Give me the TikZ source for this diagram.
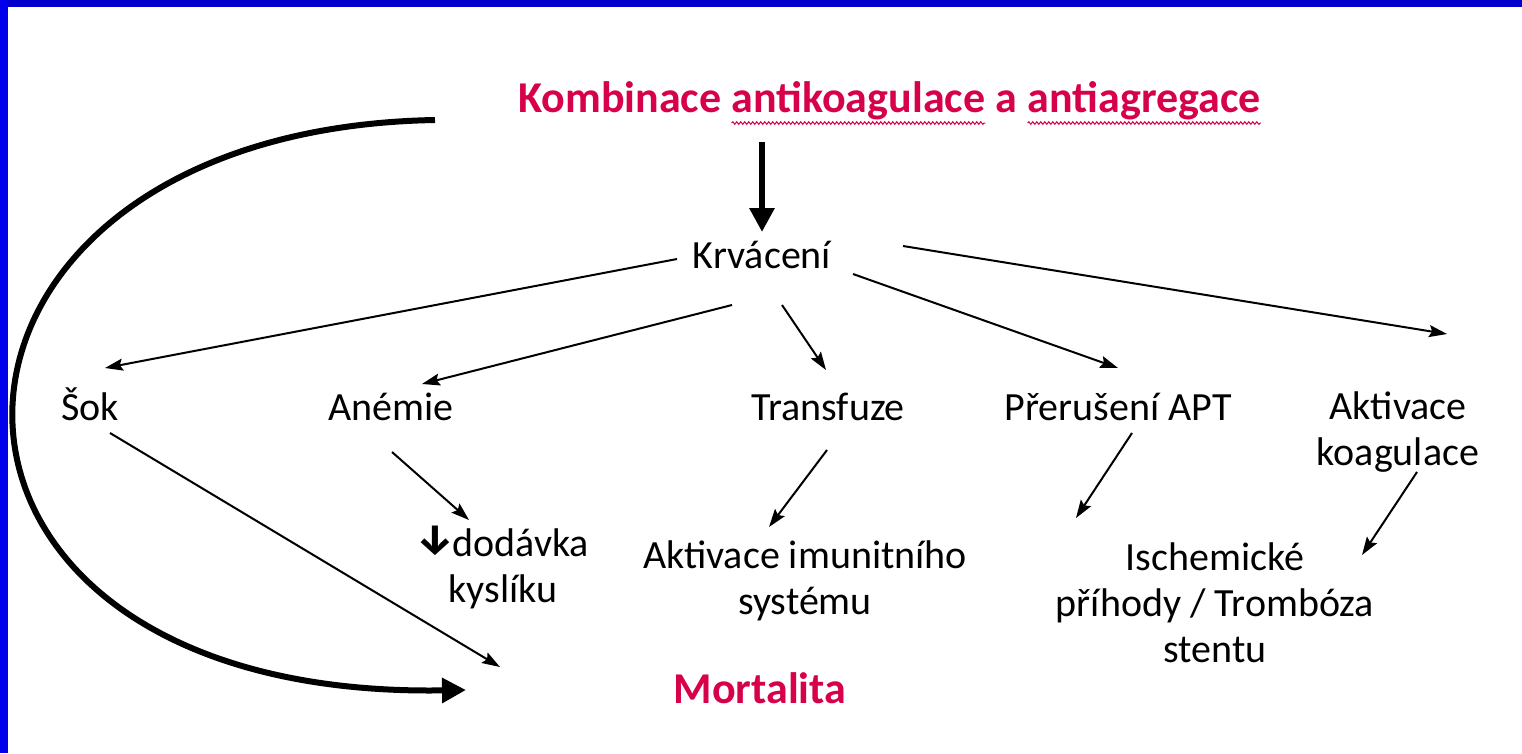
\documentclass[tikz,border=0pt]{standalone}
\usepackage{fontspec}
\setmainfont{Carlito}
\newfontfamily\arrowfont{Fira Sans}
\usetikzlibrary{arrows.meta,decorations.pathmorphing}
\definecolor{redt}{RGB}{215,0,75}
\definecolor{bluetop}{RGB}{0,0,204}
\definecolor{blueleft}{RGB}{0,0,235}
\begin{document}
\begin{tikzpicture}[x=1pt,y=-1pt,
  lbl/.style={inner sep=0pt,font=\fontsize{40}{46}\selectfont,align=center,anchor=base},
  ttl/.style={inner sep=0pt,font=\fontsize{44}{50}\selectfont\bfseries,text=redt,anchor=base west},
  thinarrow/.style={line width=2pt,-{Stealth[length=18pt,width=12pt,inset=3pt]}},
  thickarrow/.style={line width=6pt,-{Triangle[length=24pt,width=24pt]}},
  squig/.style={redt,line width=1pt,decorate,decoration={snake,amplitude=1.3pt,segment length=4pt}}]
\useasboundingbox (0,0) rectangle (1522,753);
\fill[white] (0,0) rectangle (1522,753);
\fill[bluetop] (0,0) rectangle (1522,7);
\fill[blueleft] (0,0) rectangle (8,753);

% title
\node[ttl] (t1) at (518,112) {Kombinace};
\node[ttl] (t2) at ([xshift=10pt]t1.base east) {antikoagulace};
\node[ttl] (t3) at ([xshift=10pt]t2.base east) {a};
\node[ttl] (t4) at ([xshift=10pt]t3.base east) {antiagregace};
\draw[squig] ([yshift=-11pt]t2.base west) -- ([yshift=-11pt]t2.base east);
\draw[squig] ([yshift=-11pt]t4.base west) -- ([yshift=-11pt]t4.base east);

% nodes (base = baseline of the last line)
\node[lbl] (krv) at (762,268) {Krvácení};
\node[lbl] (sok) at (90,420) {Šok};
\node[lbl] (ane) at (391,420) {Anémie};
\node[lbl] (tra) at (828,420) {Transfuze};
\node[lbl] (pre) at (1118,420) {Přerušení APT};
\node[lbl] (akt) at (1398,465) {Aktivace\\koagulace};
\node[lbl] (dod) at (503,602) {\raisebox{3pt}{\arrowfont\bfseries\fontsize{42}{42}\selectfont ↓}\kern-2pt dodávka\\kyslíku};
\node[lbl] (imu) at (805,614) {Aktivace imunitního\\systému};
\node[lbl] (isc) at (1215,662) {Ischemické\\příhody / Trombóza\\stentu};
\node[lbl,font=\fontsize{44}{50}\selectfont\bfseries,text=redt] (mor) at (760,703) {Mortalita};

% connectors
\draw[thickarrow] ([shift={(244,30)}]t1.base west) -- ([shift={(0,-36)}]krv.base);
\draw[thinarrow] ([shift={(-85,-9)}]krv.base) -- ([shift={(15,-52)}]sok.base);
\draw[thinarrow] ([shift={(-30,37)}]krv.base) -- ([shift={(31,-36)}]ane.base);
\draw[thinarrow] ([shift={(20,37)}]krv.base) -- ([shift={(-2,-50)}]tra.base);
\draw[thinarrow] ([shift={(91,6)}]krv.base) -- ([shift={(0,-52)}]pre.base);
\draw[thinarrow] ([shift={(141,-22)}]krv.base) -- ([shift={(49,-131)}]akt.base);
\draw[thinarrow] ([shift={(20,13)}]sok.base) -- ([shift={(-260,-36)}]mor.base);
\draw[thinarrow] ([shift={(1,32)}]ane.base) -- ([shift={(-34,-82)}]dod.base);
\draw[thinarrow] ([shift={(-1,30)}]tra.base) -- ([shift={(-36,-87)}]imu.base);
\draw[thinarrow] ([shift={(14,13)}]pre.base) -- ([shift={(-139,-144)}]isc.base);
\draw[thinarrow] ([shift={(19,7)}]akt.base) -- ([shift={(147,-107)}]isc.base);
\draw[thickarrow] ([shift={(-83,8)}]t1.base west) .. controls (-120,130) and (-140,700) .. ([shift={(-294,-13)}]mor.base);
\end{tikzpicture}
\end{document}
